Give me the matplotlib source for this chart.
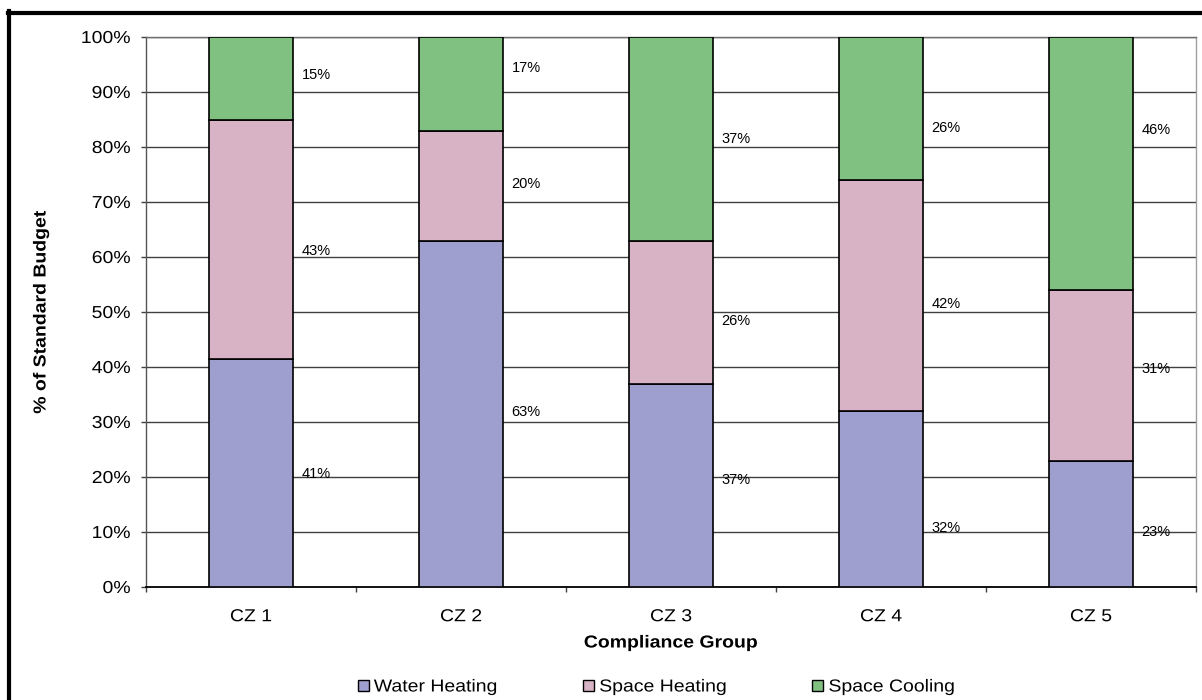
import matplotlib
matplotlib.use("Agg")
import matplotlib.pyplot as plt
from matplotlib.lines import Line2D
from matplotlib.patches import Patch
from matplotlib.patheffects import AbstractPathEffect
from matplotlib.transforms import Affine2D
import numpy as np

plt.rcParams['font.family'] = ['Liberation Sans', 'DejaVu Sans']

categories = ["CZ 1", "CZ 2", "CZ 3", "CZ 4", "CZ 5"]
series_names = ["Water Heating", "Space Heating", "Space Cooling"]
water_heating = [41, 63, 37, 32, 23]
space_heating = [43, 20, 26, 42, 31]
space_cooling = [15, 17, 37, 26, 46]

# Vertical placement (in % of axis) of the value labels beside each bar
label_y = [
    [20.5, 31.8, 19.5, 10.7, 10.0],
    [61.1, 73.3, 48.4, 51.5, 39.6],
    [93.1, 94.4, 81.5, 83.5, 83.1],
]

colors = ["#9e9fce", "#d8b3c6", "#80c080"]


class Widen(AbstractPathEffect):
    """Draw text glyphs stretched along the writing direction."""

    def __init__(self, sx=1.12, anchor="center"):
        super().__init__()
        self.sx = sx
        self.anchor = anchor

    def draw_path(self, renderer, gc, tpath, affine, rgbFace=None):
        ext = tpath.get_extents()
        if self.anchor == "left":
            x0 = ext.x0
        elif self.anchor == "right":
            x0 = ext.x1
        else:
            x0 = 0.5 * (ext.x0 + ext.x1)
        pre = Affine2D().translate(-x0, 0).scale(self.sx, 1.0).translate(x0, 0)
        renderer.draw_path(gc, tpath, pre + affine, rgbFace)


FS = 12.5
SX = 1.12

W, H = 1202, 700
fig = plt.figure(figsize=(W / 100, H / 100), dpi=100)
ax = fig.add_axes([146 / W, 1 - 587 / H, (1196 - 146) / W, (587 - 37) / H])

raw = np.array([water_heating, space_heating, space_cooling], dtype=float)
shares = raw / raw.sum(axis=0) * 100
x = np.arange(len(categories))
bottom = np.zeros(len(categories))
for vals, col in zip(shares, colors):
    ax.bar(x, vals, width=0.4, bottom=bottom, color=col,
           edgecolor="black", linewidth=1.2, zorder=3)
    bottom += vals

for s, vals in enumerate(raw):
    for i, v in enumerate(vals):
        ax.text(x[i] + 0.24, label_y[s][i], f"{v:.0f}%", ha="left",
                va="center", fontsize=10.5, zorder=4)

ax.set_xlim(-0.5, len(categories) - 0.5)
ax.set_ylim(0, 100)
ax.set_yticks(np.arange(0, 101, 10))
ax.set_yticklabels([f"{t}%" for t in range(0, 101, 10)], fontsize=FS)
ax.yaxis.grid(True, color="#404040", linewidth=1.0, zorder=0)
ax.set_axisbelow(True)

ax.set_xticks(x)
ax.set_xticklabels(categories, fontsize=FS)
ax.set_xticks(np.arange(-0.5, len(categories), 1), minor=True)
ax.tick_params(axis="x", which="major", length=0, pad=16)
ax.tick_params(axis="x", which="minor", length=3.6, width=1.0,
               direction="out", color="#404040")
ax.tick_params(axis="y", length=3.6, width=1.0, direction="out",
               color="#404040", pad=7.5)

for lbl in ax.get_yticklabels():
    lbl.set_path_effects([Widen(SX, "right")])
for lbl in ax.get_xticklabels():
    lbl.set_path_effects([Widen(SX, "center")])

ax.spines["top"].set_color("#707070")
ax.spines["right"].set_color("#a0a0a0")
ax.spines["left"].set_color("#555555")
for side in ["top", "right", "left"]:
    ax.spines[side].set_linewidth(1.0)
ax.spines["bottom"].set_color("black")
ax.spines["bottom"].set_linewidth(1.3)

xl = ax.set_xlabel("Compliance Group", fontsize=FS, fontweight="bold")
xl.set_va("center")
ax.xaxis.set_label_coords(0.5, (587 - 643) / (587 - 37))
xl.set_path_effects([Widen(SX, "center")])

yl = ax.set_ylabel("% of Standard Budget", fontsize=FS, fontweight="bold")
yl.set_va("center")
ax.yaxis.set_label_coords((41 - 146) / (1196 - 146), 0.5)
yl.set_path_effects([Widen(SX, "center")])

handles = [Patch(facecolor=c, edgecolor="black", linewidth=1.0) for c in colors]
leg = fig.legend(handles, series_names, loc="center left",
                 bbox_to_anchor=(349 / W, 1 - 687 / H),
                 ncol=3, frameon=False, fontsize=FS, borderpad=0,
                 handlelength=0.63, handleheight=0.63,
                 handletextpad=0.3, columnspacing=5.7)
for t in leg.get_texts():
    t.set_path_effects([Widen(SX, "left")])

# Heavy frame along the top and left edges of the figure
fig.add_artist(Line2D([9 / W, 9 / W], [0, 1 - 11 / H], color="black",
                      linewidth=3.0, transform=fig.transFigure))
fig.add_artist(Line2D([7.5 / W, 1], [1 - 13 / H, 1 - 13 / H], color="black",
                      linewidth=3.0, transform=fig.transFigure))

fig.savefig("out.png", dpi=100)
